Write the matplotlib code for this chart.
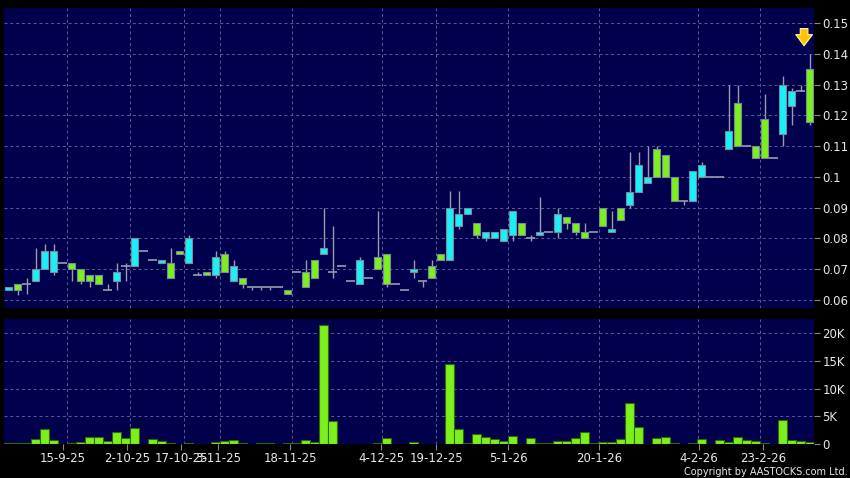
import numpy as np
import matplotlib
matplotlib.use('Agg')
import matplotlib.pyplot as plt

# Dados (90 sessoes)
abre = [0.063, 0.065, 0.065, 0.066, 0.070, 0.069, 0.072, 0.072, 0.070, 0.068,
        0.068, 0.063, 0.066, 0.071, 0.071, 0.076, 0.073, 0.072, 0.072, 0.076,
        0.072, 0.068, 0.069, 0.068, 0.075, 0.066, 0.067, 0.064, 0.064, 0.064,
        0.064, 0.063, 0.069, 0.069, 0.073, 0.075, 0.069, 0.071, 0.066, 0.065,
        0.067, 0.074, 0.075, 0.065, 0.063, 0.069, 0.066, 0.071, 0.075, 0.073,
        0.084, 0.088, 0.085, 0.080, 0.080, 0.079, 0.081, 0.085, 0.080, 0.081,
        0.082, 0.082, 0.087, 0.085, 0.082, 0.082, 0.090, 0.082, 0.090, 0.091,
        0.095, 0.098, 0.109, 0.107, 0.100, 0.092, 0.092, 0.100, 0.100, 0.100,
        0.109, 0.124, 0.110, 0.110, 0.119, 0.106, 0.114, 0.123, 0.128, 0.135]
maximas = [0.064, 0.065, 0.067, 0.077, 0.078, 0.078, 0.072, 0.072, 0.070, 0.068,
           0.068, 0.065, 0.072, 0.072, 0.080, 0.076, 0.073, 0.073, 0.077, 0.076,
           0.081, 0.069, 0.069, 0.076, 0.076, 0.073, 0.067, 0.064, 0.064, 0.064,
           0.064, 0.063, 0.069, 0.073, 0.073, 0.090, 0.084, 0.071, 0.066, 0.074,
           0.067, 0.089, 0.075, 0.065, 0.063, 0.073, 0.066, 0.073, 0.075, 0.0955,
           0.0955, 0.090, 0.085, 0.082, 0.082, 0.083, 0.089, 0.085, 0.081, 0.0933,
           0.082, 0.090, 0.087, 0.085, 0.085, 0.082, 0.090, 0.089, 0.090, 0.108,
           0.108, 0.110, 0.110, 0.107, 0.100, 0.092, 0.102, 0.105, 0.100, 0.100,
           0.130, 0.130, 0.110, 0.110, 0.127, 0.106, 0.133, 0.129, 0.130, 0.140]
minimas = [0.063, 0.0615, 0.062, 0.066, 0.070, 0.068, 0.072, 0.066, 0.065, 0.064,
           0.065, 0.063, 0.063, 0.066, 0.071, 0.076, 0.073, 0.072, 0.067, 0.075,
           0.072, 0.068, 0.068, 0.067, 0.069, 0.066, 0.0637, 0.063, 0.063, 0.063,
           0.064, 0.062, 0.069, 0.064, 0.067, 0.075, 0.067, 0.071, 0.066, 0.065,
           0.067, 0.070, 0.064, 0.065, 0.063, 0.067, 0.064, 0.067, 0.073, 0.073,
           0.083, 0.088, 0.080, 0.079, 0.080, 0.079, 0.079, 0.081, 0.079, 0.081,
           0.082, 0.080, 0.083, 0.081, 0.080, 0.082, 0.084, 0.082, 0.086, 0.090,
           0.095, 0.098, 0.100, 0.100, 0.092, 0.091, 0.092, 0.100, 0.100, 0.100,
           0.109, 0.110, 0.110, 0.106, 0.106, 0.106, 0.110, 0.117, 0.128, 0.117]
fecha = [0.064, 0.063, 0.065, 0.070, 0.076, 0.076, 0.072, 0.070, 0.066, 0.066,
         0.065, 0.063, 0.069, 0.071, 0.080, 0.076, 0.073, 0.073, 0.067, 0.075,
         0.080, 0.068, 0.068, 0.074, 0.069, 0.071, 0.065, 0.064, 0.064, 0.064,
         0.064, 0.062, 0.069, 0.064, 0.067, 0.077, 0.069, 0.071, 0.066, 0.073,
         0.067, 0.070, 0.065, 0.065, 0.063, 0.070, 0.066, 0.067, 0.073, 0.090,
         0.088, 0.090, 0.081, 0.082, 0.082, 0.083, 0.089, 0.081, 0.080, 0.082,
         0.082, 0.088, 0.085, 0.082, 0.080, 0.082, 0.084, 0.083, 0.086, 0.095,
         0.104, 0.100, 0.100, 0.100, 0.092, 0.092, 0.102, 0.104, 0.100, 0.100,
         0.115, 0.110, 0.110, 0.106, 0.106, 0.106, 0.130, 0.128, 0.128, 0.118]
# volume em milhares
volume = [0.1, 0.1, 0.2, 0.9, 2.7, 0.8, 0.0, 0.2, 0.4, 1.2,
          1.2, 0.5, 2.1, 1.0, 2.9, 0.0, 0.9, 0.55, 0.2, 0.0,
          0.1, 0.0, 0.05, 0.4, 0.55, 0.7, 0.2, 0.0, 0.1, 0.2,
          0.0, 0.1, 0.2, 0.7, 0.4, 21.5, 4.2, 0.0, 0.0, 0.05,
          0.0, 0.2, 1.0, 0.0, 0.0, 0.4, 0.0, 0.05, 0.05, 14.4,
          2.7, 0.25, 1.75, 1.2, 0.85, 0.6, 1.4, 0.0, 1.0, 0.2,
          0.2, 0.6, 0.6, 1.1, 2.1, 0.2, 0.35, 0.35, 0.9, 7.45,
          3.15, 0.0, 1.0, 1.2, 0.1, 0.0, 0.2, 0.9, 0.0, 0.65,
          0.3, 1.2, 0.65, 0.5, 0.2, 0.0, 4.35, 0.65, 0.6, 0.3]

datas = ['15-9-25', '2-10-25', '17-10-25', '3-11-25', '18-11-25', '4-12-25',
         '19-12-25', '5-1-26', '20-1-26', '4-2-26', '23-2-26']
pos_datas = [6.0, 13.2, 19.2, 23.3, 31.3, 41.4, 47.5, 55.5, 65.6, 76.7, 83.8]
pos_grade = [6.5, 13.5, 19.5, 23.5, 31.5, 41.5, 47.5, 55.5, 65.6, 76.6, 83.5]

fundo = '#00004c'
cor_grade = '#5c5c9c'
cor_alta = '#19f0f8'
cor_baixa = '#7cf01c'
cor_pavio = '#9a9ab0'

fig = plt.figure(figsize=(8.5, 4.78), dpi=100, facecolor='black')
ax = fig.add_axes([4 / 850, 1 - 308 / 478, 810 / 850, 300 / 478], facecolor=fundo)
axv = fig.add_axes([4 / 850, 1 - 444 / 478, 810 / 850, 125 / 478], facecolor=fundo)

x = np.arange(len(abre))
o = np.array(abre)
c = np.array(fecha)

# pavios
ax.vlines(x, minimas, maximas, color=cor_pavio, lw=1, zorder=2)

# corpos
doji = o == c
cores = np.where(c > o, cor_alta, cor_baixa)
base = np.minimum(o, c)
altura = np.abs(c - o)
ax.bar(x[~doji], altura[~doji], bottom=base[~doji], width=0.85,
       color=cores[~doji], edgecolor='#7a8a9a', linewidth=0.8, zorder=3)
ax.hlines(o[doji], x[doji] - 0.5, x[doji] + 0.5, color=cor_pavio, lw=1.2, zorder=3)

# seta amarela na ultima sessao
ax.annotate('', xy=(88.4, 0.1418), xytext=(88.4, 0.1492),
            arrowprops=dict(arrowstyle='simple,head_width=1.2,head_length=0.8,tail_width=0.55',
                            fc='#ffc400', ec='#fff6b0', lw=0.8))

# volume
axv.bar(x, volume, width=0.9, color=cor_baixa, edgecolor='#2f6a08', linewidth=0.8, zorder=3)

ax.set_xlim(-0.5, len(abre) - 0.5)
axv.set_xlim(-0.5, len(abre) - 0.5)
ax.set_ylim(0.0573, 0.155)
axv.set_ylim(0, 22.6)

ax.set_yticks(np.arange(0.06, 0.151, 0.01))
ax.set_yticklabels(['%g' % round(v, 2) for v in np.arange(0.06, 0.151, 0.01)])
axv.set_yticks([0, 5, 10, 15, 20])
axv.set_yticklabels(['0', '5K', '10K', '15K', '20K'])

for a in (ax, axv):
    a.yaxis.tick_right()
    a.tick_params(axis='y', colors='#888888', labelcolor='#e8e8e8', length=4,
                  width=0.8, pad=2, labelsize=8.5)
    for s in a.spines.values():
        s.set_visible(False)
    a.yaxis.grid(True, color=cor_grade, linestyle=(0, (3, 3)), lw=0.7)
    for g in pos_grade:
        a.axvline(g, color=cor_grade, linestyle=(0, (3, 3)), lw=0.7, zorder=1)
    a.set_axisbelow(True)

ax.set_xticks([])
axv.set_xticks(pos_datas)
axv.set_xticklabels(datas)
axv.tick_params(axis='x', colors='#888888', labelcolor='#e8e8e8', length=4,
                width=0.8, pad=1.5, labelsize=8.5)

fig.text(0.997, 0.002, 'Copyright by AASTOCKS.com Ltd.', color='#e8e8e8',
         fontsize=7, ha='right', va='bottom')

fig.savefig('out.png', dpi=100, facecolor='black')
